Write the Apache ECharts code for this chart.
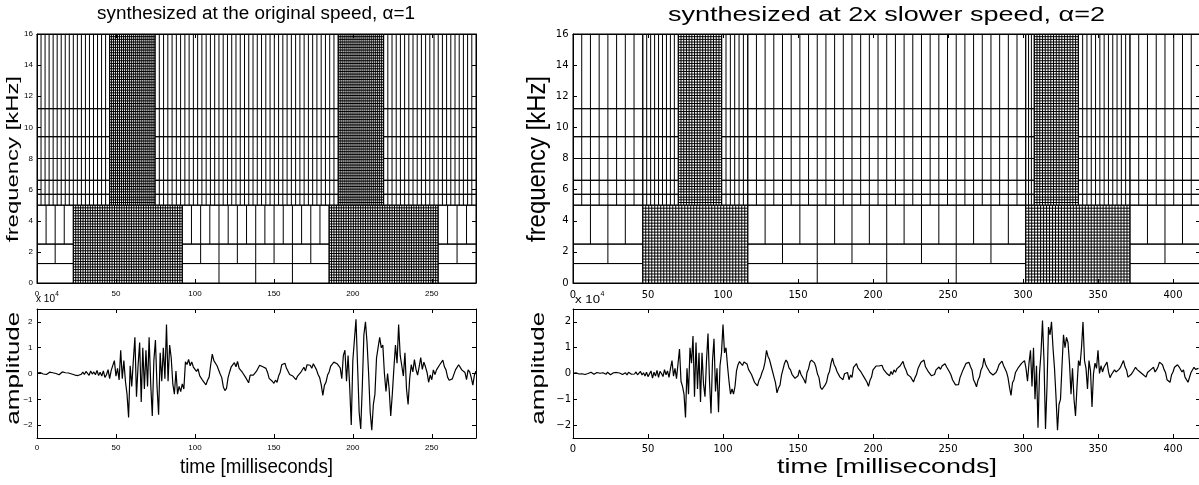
<!DOCTYPE html>
<html><head><meta charset="utf-8">
<script src="https://cdn.jsdelivr.net/npm/echarts@6/dist/echarts.min.js"></script>
<style>html,body{margin:0;padding:0;background:#fff}#c{width:1199px;height:485px}</style>
</head><body><div id="c"></div>
<script>
// ---------- tick labels ----------
const leftTimeTicks = [0,50,100,150,200,250];
const rightTimeTicks = [0,50,100,150,200,250,300,350,400];
const freqTicks = [0,2,4,6,8,10,12,14,16];
const ampTicks = [-2,-1,0,1,2];

// ---------- texts ----------
const leftTitle = 'synthesized at the original speed, \u03b1=1';
const rightTitle = 'synthesized at 2x slower speed, \u03b1=2';
const freqName = 'frequency [kHz]';
const ampName = 'amplitude';
const timeName = 'time [milliseconds]';

// ---------- time-frequency tiling (ms, kHz) ----------
const upperEdges = [5, 5.7, 6.6, 8, 9.4, 11.2, 16];
// [t0, t1, number of time segments]
const leftUpperSpans = [[0,46,18],[74.75,190.75,43],[219.5,278,22]];
const leftBand0 = [[0,23,1],[92,185,4],[254,278,1]];      // 0-1.25 kHz
const leftBand1 = [[0,23,2],[92,185,8],[254,278,2]];      // 1.25-2.5 kHz
const leftBand2 = [[0,23,4],[92,185,16],[254,278,4]];     // 2.5-5 kHz
// [t0, t1, time segments, freq segments]
const leftUpperDense = [[46,74.75,23,64],[190.75,219.5,23,64]];
const leftLowerDense = [[23,92,45,29],[185,254,45,29]];

const rightUpperSpans = [[0,46.5,8],[46.5,70.2,9],[99.1,116.5,6],[116.5,301.8,32],[301.8,307.5,3],[336.9,371.3,12],[371.3,418,8]];
const rightBand0 = [[0,46.5,1],[116.5,301.8,4],[371.3,418,1]];
const rightBand1 = [[0,46.5,2],[116.5,301.8,8],[371.3,418,2]];
const rightBand2 = [[0,46.5,4],[116.5,301.8,16],[371.3,418,4]];
const rightUpperDense = [[70.2,99.1,16,64],[307.5,336.9,16,64]];
const rightLowerDense = [[46.5,116.5,35,26],[301.8,371.3,35,26]];

// ---------- waveforms (x 10^4), one value per millisecond ----------
const leftWave = [
0.02,-0.03,0.04,0.00,-0.02,0.03,-0.04,0.02,0.05,-0.01,
0.03,-0.02,0.00,0.04,-0.05,0.02,0.06,-0.01,0.03,-0.03,
0.02,0.05,-0.02,0.03,-0.06,0.01,-0.08,-0.12,-0.03,0.05,
-0.04,0.08,0.02,-0.07,0.10,-0.02,0.06,-0.05,0.12,-0.08,
0.05,-0.10,0.10,-0.15,-0.05,0.15,-0.20,0.12,0.05,0.50,
-0.10,0.20,-0.25,0.90,-0.20,0.50,-0.30,-0.80,-1.70,0.30,
-0.50,0.50,1.40,-0.90,0.30,1.20,-1.10,1.00,-0.60,0.90,
-0.50,1.40,-0.40,-1.65,0.50,1.30,-0.50,-1.60,0.80,-0.30,
1.00,-0.20,1.90,-0.30,1.10,0.60,-0.40,-0.80,0.10,-0.80,
-0.50,-0.70,-0.40,-0.60,0.45,0.35,0.55,0.30,0.45,0.25,
0.32,0.08,0.18,-0.08,-0.10,-0.28,-0.22,-0.44,-0.26,-0.14,
0.34,0.75,0.50,0.44,0.30,0.36,-0.02,-0.16,-0.52,-0.66,
-0.58,-0.16,0.06,0.26,0.24,0.42,0.26,0.47,0.20,0.18,
0.05,0.06,-0.14,-0.16,-0.36,-0.06,-0.10,-0.06,-0.04,0.09,
0.15,0.32,0.36,0.26,0.24,0.20,0.04,-0.19,-0.26,-0.30,
-0.38,-0.26,-0.34,-0.10,0.05,0.34,0.30,0.40,0.20,0.14,
-0.04,-0.06,-0.10,-0.11,-0.24,-0.10,-0.14,0.04,0.06,0.24,
0.10,0.34,0.30,0.32,0.20,0.38,0.26,0.14,-0.04,-0.16,
-0.44,-0.85,-0.46,-0.34,-0.06,0.06,0.29,0.26,0.44,0.40,
0.38,0.36,0.22,-0.20,0.70,0.90,-0.30,0.70,-0.50,-2.00,
0.50,1.30,2.10,0.30,-1.50,-2.15,-0.50,1.50,2.00,1.20,
0.00,-1.50,-2.20,-1.20,-0.80,0.60,1.00,1.40,1.00,1.10,
0.00,-0.70,0.00,-0.60,-1.65,-0.80,0.20,1.10,0.40,1.90,
0.70,0.30,-0.10,0.80,-0.60,-1.20,-0.20,0.34,0.06,0.54,
0.16,-0.06,0.26,0.62,0.16,0.44,0.26,0.04,-0.34,-0.06,
-0.24,0.14,-0.04,0.14,0.16,0.34,0.41,0.52,0.26,0.14,
-0.14,-0.26,-0.24,-0.21,-0.14,0.14,0.16,0.34,0.31,0.14,
0.16,0.04,-0.24,0.14,0.06,-0.16,-0.45,-0.06,0.10
];
const rightWave = [
0.01,-0.03,0.03,0.00,-0.02,0.04,-0.01,0.02,-0.04,0.03,
0.00,-0.02,0.05,0.01,-0.03,0.02,0.04,-0.02,0.01,-0.04,
0.03,0.00,-0.03,0.05,0.02,-0.05,0.01,0.03,-0.02,0.04,
-0.03,0.02,0.06,-0.04,0.01,0.03,-0.06,0.05,0.00,-0.03,
0.04,-0.02,0.06,-0.05,0.02,0.08,-0.06,0.03,-0.10,0.05,
-0.12,-0.05,0.10,-0.18,0.05,-0.10,0.12,-0.15,0.08,0.00,
-0.12,0.15,-0.05,0.10,-0.15,0.20,0.50,-0.10,0.20,-0.20,
-0.20,0.95,-0.30,-0.50,-0.80,-1.70,0.20,-0.80,1.00,0.40,
1.45,-0.90,1.20,-0.60,0.80,-1.10,0.80,-0.40,-0.90,0.50,
1.55,-0.30,-1.55,0.50,1.35,-0.70,0.20,-1.50,0.30,0.80,
1.90,0.80,1.00,0.30,-0.30,-0.80,-0.60,-0.80,-0.50,0.10,
0.34,0.46,0.47,0.31,0.45,0.51,0.37,0.16,0.14,-0.04,
-0.06,-0.34,-0.29,-0.48,-0.26,-0.15,0.04,0.18,0.44,0.90,
0.66,0.54,0.31,0.25,-0.14,-0.36,-0.75,-0.56,-0.45,-0.06,
0.16,0.39,0.52,0.43,0.22,0.14,-0.03,-0.06,-0.19,-0.18,
-0.09,0.14,-0.04,-0.08,-0.24,-0.38,0.04,0.18,0.44,0.52,
0.54,0.41,0.24,-0.02,-0.16,-0.54,-0.62,-0.64,-0.45,-0.34,
-0.06,0.08,0.39,0.60,0.36,0.24,0.08,0.04,-0.14,-0.11,
-0.24,-0.01,0.06,0.04,-0.24,-0.06,-0.15,0.24,0.26,0.38,
0.21,0.24,0.06,0.05,-0.14,-0.16,-0.34,-0.50,-0.26,-0.14,
0.14,0.18,0.29,0.27,0.29,0.26,0.32,0.16,0.13,0.01,
0.04,-0.09,0.08,-0.04,0.14,0.05,0.19,0.16,0.29,0.31,
0.47,0.26,0.14,-0.04,-0.06,-0.13,-0.17,-0.33,-0.16,-0.04,
0.19,0.26,0.44,0.41,0.52,0.26,0.25,0.06,0.04,-0.09,
-0.06,-0.04,0.14,0.11,0.25,0.16,0.29,0.26,0.38,0.26,
0.24,0.06,-0.06,-0.24,-0.26,-0.44,-0.47,-0.43,-0.16,-0.14,
0.14,0.16,0.39,0.42,0.43,0.26,0.14,-0.24,-0.36,-0.52,
-0.26,-0.14,0.14,0.26,0.60,0.36,0.24,0.18,0.04,-0.03,
-0.06,-0.13,0.04,0.16,0.34,0.37,0.48,0.31,0.33,0.06,
-0.16,-0.54,-0.85,-0.36,-0.24,0.04,0.06,0.24,0.26,0.39,
0.40,0.50,0.20,-0.30,0.40,0.90,-0.50,1.00,-1.00,0.30,
-2.10,0.00,0.80,2.05,0.50,-2.15,-0.50,1.80,1.50,2.00,
1.00,0.20,-0.90,-2.20,-1.20,-1.00,0.30,1.50,1.00,1.40,
1.20,0.40,-0.80,0.20,-1.00,-1.65,-0.50,0.50,0.30,1.00,
2.00,0.50,0.20,-0.60,0.50,0.10,-1.30,0.00,0.40,0.20,
0.90,0.00,0.30,0.06,0.24,0.26,0.44,0.06,-0.16,-0.04,
-0.06,0.14,0.06,0.04,0.16,0.24,0.26,0.50,0.26,0.14,
-0.14,-0.16,-0.04,0.04,0.06,0.24,0.16,0.14,0.06,0.04,
-0.04,-0.06,-0.14,0.04,0.06,0.14,0.16,0.24,0.06,0.14,
0.26,0.44,0.41,0.34,0.16,0.04,-0.24,-0.26,-0.34,-0.06,
0.06,0.24,0.26,0.34,0.26,0.24,0.06,0.14,-0.14,-0.16,
-0.34,-0.36,0.04,0.06,0.24,0.16,0.14,0.20
];

// ---------- build tile boundary segments from the tiling tables ----------
function bandSegs(spans, f0, f1, out) {
  spans.forEach(([t0, t1, n]) => {
    out.push([t0, f0, t1, f0], [t0, f1, t1, f1]);
    for (let k = 0; k <= n; k++) { const t = t0 + (t1 - t0) * k / n; out.push([t, f0, t, f1]); }
  });
}
function denseSegs(blocks, f0, f1, out) {
  blocks.forEach(([t0, t1, nT, nF]) => {
    for (let k = 0; k <= nT; k++) { const t = t0 + (t1 - t0) * k / nT; out.push([t, f0, t, f1]); }
    for (let j = 0; j <= nF; j++) { const f = f0 + (f1 - f0) * j / nF; out.push([t0, f, t1, f]); }
  });
}
function buildTiles(upperSpans, b0, b1, b2, upDense, loDense) {
  const out = [];
  for (let i = 0; i < upperEdges.length - 1; i++) bandSegs(upperSpans, upperEdges[i], upperEdges[i+1], out);
  bandSegs(b0, 0, 1.25, out); bandSegs(b1, 1.25, 2.5, out); bandSegs(b2, 2.5, 5, out);
  denseSegs(upDense, 5, 16, out); denseSegs(loDense, 0, 5, out);
  return out;
}
const leftTiles = buildTiles(leftUpperSpans, leftBand0, leftBand1, leftBand2, leftUpperDense, leftLowerDense);
const rightTiles = buildTiles(rightUpperSpans, rightBand0, rightBand1, rightBand2, rightUpperDense, rightLowerDense);

const fmt = v => (v < 0 ? '\u2212' + (-v) : String(v));
function xAx(grid, max, ticks, pos, lab) {
  return { type:'value', gridIndex:grid, min:0, max:max, position:pos,
    axisLine:{show:true, onZero:false, lineStyle:{color:'#000', width:1}},
    axisTick:{show:true, inside:true, length:4, customValues:ticks, lineStyle:{color:'#000', width:1}},
    axisLabel: lab ? {show:true, customValues:ticks, margin:lab.m, fontSize:lab.s, fontFamily:lab.f, color:'#000', formatter:fmt} : {show:false},
    splitLine:{show:false} };
}
function yAx(grid, min, max, ticks, pos, lab) {
  return { type:'value', gridIndex:grid, min:min, max:max, position:pos,
    axisLine:{show:true, onZero:false, lineStyle:{color:'#000', width:1}},
    axisTick:{show:true, inside:true, length:4, customValues:ticks, lineStyle:{color:'#000', width:1}},
    axisLabel: lab ? {show:true, customValues:ticks, margin:lab.m, fontSize:lab.s, fontFamily:lab.f, color:'#000', formatter:fmt} : {show:false},
    splitLine:{show:false} };
}
const LF = 'Liberation Sans', RF = 'DejaVu Sans';
const tileRender = (params, api) => {
  const a = api.coord([api.value(0), api.value(1)]);
  const b = api.coord([api.value(2), api.value(3)]);
  return { type:'line', shape:{x1:a[0], y1:a[1], x2:b[0], y2:b[1]}, style:{stroke:'#000', lineWidth:1} };
};

const mctx = document.createElement('canvas').getContext('2d');
function fit(text, size, family, target) { mctx.font = size + 'px "' + family + '"'; return target / mctx.measureText(text).width; }
function txt(text, x, y, size, target, opts) {
  opts = opts || {};
  return { type:'text', x:x, y:y, rotation: opts.rot ? Math.PI/2 : 0,
    scaleX: target ? fit(text, size, LF, target) : 1, scaleY: opts.sy || 1, silent:true,
    style:{ text:text, fontSize:size, fontFamily:LF, fill:'#000', align: opts.align || 'center', verticalAlign:'middle' } };
}

const option = {
  animation:false,
  backgroundColor:'#fff',
  grid:[
    {left:37, top:34, width:439, height:249, outerBoundsMode:'none'},
    {left:37, top:309, width:439, height:129, outerBoundsMode:'none'},
    {left:573, top:34, width:627, height:249, outerBoundsMode:'none'},
    {left:573, top:309, width:627, height:129, outerBoundsMode:'none'}
  ],
  xAxis:[
    xAx(0, 278, leftTimeTicks, 'bottom', {m:7, s:8, f:LF}), xAx(0, 278, leftTimeTicks, 'top', null),
    xAx(1, 278, leftTimeTicks, 'bottom', {m:6, s:8, f:LF}), xAx(1, 278, leftTimeTicks, 'top', null),
    xAx(2, 418, rightTimeTicks, 'bottom', {m:7, s:10, f:RF}), xAx(2, 418, rightTimeTicks, 'top', null),
    xAx(3, 418, rightTimeTicks, 'bottom', {m:6, s:10, f:RF}), xAx(3, 418, rightTimeTicks, 'top', null)
  ],
  yAxis:[
    yAx(0, 0, 16, freqTicks, 'left', {m:4, s:8, f:LF}), yAx(0, 0, 16, freqTicks, 'right', null),
    yAx(1, -2.5, 2.5, ampTicks, 'left', {m:4.5, s:8, f:LF}), yAx(1, -2.5, 2.5, ampTicks, 'right', null),
    yAx(2, 0, 16, freqTicks, 'left', {m:4.5, s:10, f:RF}), yAx(2, 0, 16, freqTicks, 'right', null),
    yAx(3, -2.5, 2.5, ampTicks, 'left', {m:2, s:10, f:RF}), yAx(3, -2.5, 2.5, ampTicks, 'right', null)
  ],
  series:[
    {type:'custom', xAxisIndex:0, yAxisIndex:0, renderItem:tileRender, encode:{x:[0,2], y:[1,3]}, data:leftTiles, silent:true, z:1},
    {type:'line', xAxisIndex:2, yAxisIndex:2, data:leftWave.map((v,i)=>[i,v]), showSymbol:false, symbol:'none', silent:true,
      lineStyle:{color:'#000', width:1.2}, z:2},
    {type:'custom', xAxisIndex:4, yAxisIndex:4, renderItem:tileRender, encode:{x:[0,2], y:[1,3]}, data:rightTiles, silent:true, z:1},
    {type:'line', xAxisIndex:6, yAxisIndex:6, data:rightWave.map((v,i)=>[i,v]), showSymbol:false, symbol:'none', silent:true,
      lineStyle:{color:'#000', width:1.2}, z:2}
  ],
  graphic:[
    txt(leftTitle, 256, 14, 18, 318),
    txt(rightTitle, 886.5, 15.5, 21, 437),
    txt(freqName, 13.5, 159, 24, 166, {rot:true, sy:0.72}),
    txt(freqName, 538, 159, 24, 166, {rot:true, sy:1.08}),
    txt(ampName, 14.2, 368.3, 24, 113, {rot:true, sy:0.76}),
    txt(ampName, 539.5, 368.3, 24, 113, {rot:true, sy:0.74}),
    txt(timeName, 256.5, 467.7, 19.5, 153),
    txt(timeName, 887, 467.5, 19.5, 220),
    txt('x 10', 36, 299.7, 10, 19, {align:'left'}),
    txt('4', 55.3, 294, 6.5, 0, {align:'left'}),
    txt('x 10', 575, 300.5, 10.5, 25, {align:'left'}),
    txt('4', 600.5, 294, 7, 0, {align:'left'})
  ]
};
const chart = echarts.init(document.getElementById('c'), null, {renderer:'canvas'});
chart.setOption(option);
</script>
</body></html>
